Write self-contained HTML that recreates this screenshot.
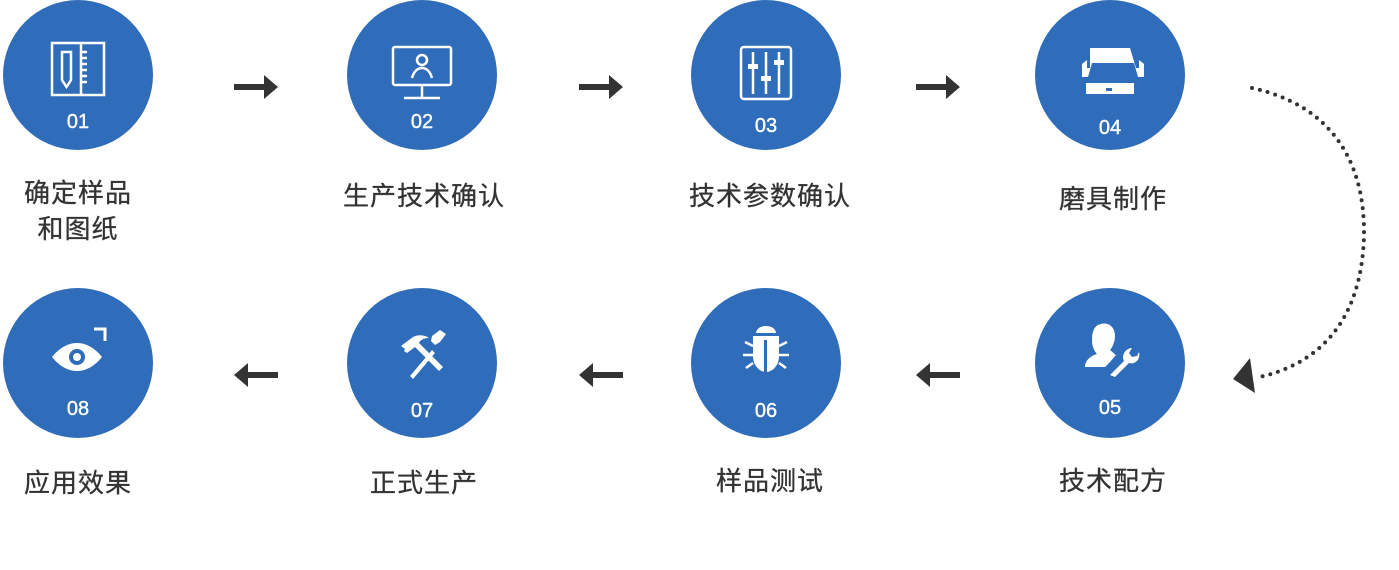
<!DOCTYPE html>
<html><head><meta charset="utf-8"><style>
html,body{margin:0;padding:0;background:#fff;width:1399px;height:570px;overflow:hidden}
svg{display:block}
.n{font-family:"Liberation Sans",sans-serif;font-size:20px;fill:#fff;text-anchor:middle;stroke:#fff;stroke-width:0.4}
.l{font-family:"Liberation Sans","Noto Sans CJK SC",sans-serif;font-size:26px;fill:#333;text-anchor:middle;letter-spacing:1px;stroke:#333;stroke-width:0.3}
</style></head><body>
<svg width="1399" height="570" viewBox="0 0 1399 570">
<g fill="#2f6cba">
<circle cx="78" cy="75" r="75"/><circle cx="422" cy="75" r="75"/><circle cx="766" cy="75" r="75"/><circle cx="1110" cy="75" r="75"/>
<circle cx="78" cy="363" r="75"/><circle cx="422" cy="363" r="75"/><circle cx="766" cy="363" r="75"/><circle cx="1110" cy="363" r="75"/>
</g>
<g class="n">
<text x="78" y="128">01</text><text x="422" y="128">02</text><text x="766" y="132">03</text><text x="1110" y="134">04</text>
<text x="78" y="415">08</text><text x="422" y="417">07</text><text x="766" y="417">06</text><text x="1110" y="414">05</text>
</g>
<g class="l">
<text x="78" y="202">确定样品</text><text x="78" y="238">和图纸</text>
<text x="424" y="205">生产技术确认</text><text x="770" y="205">技术参数确认</text><text x="1113" y="208">磨具制作</text>
<text x="78" y="492">应用效果</text><text x="424" y="492">正式生产</text><text x="770" y="490">样品测试</text><text x="1113" y="490">技术配方</text>
</g>
<g fill="#333">
<path d="M234 84h30v-9l14 12-14 12v-9h-30z"/>
<path d="M579 84h30v-9l14 12-14 12v-9h-30z"/>
<path d="M916 84h30v-9l14 12-14 12v-9h-30z"/>
<path d="M278 372h-30v-9l-14 12 14 12v-9h30z"/>
<path d="M623 372h-30v-9l-14 12 14 12v-9h30z"/>
<path d="M960 372h-30v-9l-14 12 14 12v-9h30z"/>
</g>
<path d="M1252 88 C1330 105 1365 160 1364 235 C1362 320 1320 365 1255 378" fill="none" stroke="#333" stroke-width="4" stroke-linecap="round" stroke-dasharray="0 8"/>
<path d="M1233 379 L1250 358 L1255 393 Z" fill="#333"/>
<g fill="none" stroke="#fff" stroke-width="2.5">
<rect x="52" y="43" width="52" height="52"/>
<path d="M62 52h9v28l-4.5 7-4.5-7z"/><path d="M81 43v52M81 52h6M81 58h6M81 64h6M81 70h6M81 76h6M81 82h6"/>
<rect x="393" y="47" width="58" height="38" rx="2"/><path d="M422 85v12M404 98h36"/>
<circle cx="422" cy="60" r="5"/><path d="M412 78c2-7 6-10 10-10s8 3 10 10"/>
<rect x="741" y="47" width="50" height="52" rx="3"/>
<path d="M753 52v42M766 52v42M779 52v42"/>
</g>
<g fill="#fff">
<rect x="748" y="64" width="10" height="5"/><rect x="761" y="76" width="10" height="5"/><rect x="774" y="60" width="10" height="5"/>
<path d="M1090 48h40l6 20h3v-8l5 4v13h-6l-4-14h-42l-4 14h-6v-13l5-4v8h3z"/>
<path d="M1086 83h48v11h-48z"/><rect x="1106" y="88" width="6" height="3" fill="#2f6cba"/>
<path d="M1098 325c8-4 17 0 17 11 0 6-3 12-5 14 3 2 4 4 6 5l-6 7-5 5h-20c0-6 5-11 12-13-3-3-5-8-5-14 0-8 2-13 6-15z"/>
<path d="M1110 375l14-14c-3-6 2-13 8-13l-3 5 3 4 5-1 2-4c2 7-4 13-10 11l-14 14z"/>
<path d="M756 333a10 7 0 0 1 20 0z"/>
<path d="M753 336h26v20c0 10-7 16-13 16s-13-6-13-16z"/>
<rect x="764" y="340" width="3" height="32" fill="#2f6cba"/>
<path d="M745 342l8 4M787 342l-8 4M743 355h10M779 355h10M746 368l7-5M786 368l-7-5" stroke="#fff" stroke-width="2.5"/>
<path d="M401 346l12-9c6-3 12-2 16 1-5 0-9 2-10 5l24 24-4 4-24-24-8 6-3-2 1-2z"/>
<path d="M410 376l22-26 3 3-22 26z"/><path d="M432 336l8-6 6 4-6 8-5 3-4-4z"/>
<path d="M52 357c8-10 17-14 25-14s17 4 25 14c-8 10-17 14-25 14s-17-4-25-14z"/>
<circle cx="77" cy="357" r="8" fill="#2f6cba"/><circle cx="77" cy="357" r="4"/>
</g>
<path d="M94 329h11v12" fill="none" stroke="#fff" stroke-width="3"/>
</svg>
</body></html>
